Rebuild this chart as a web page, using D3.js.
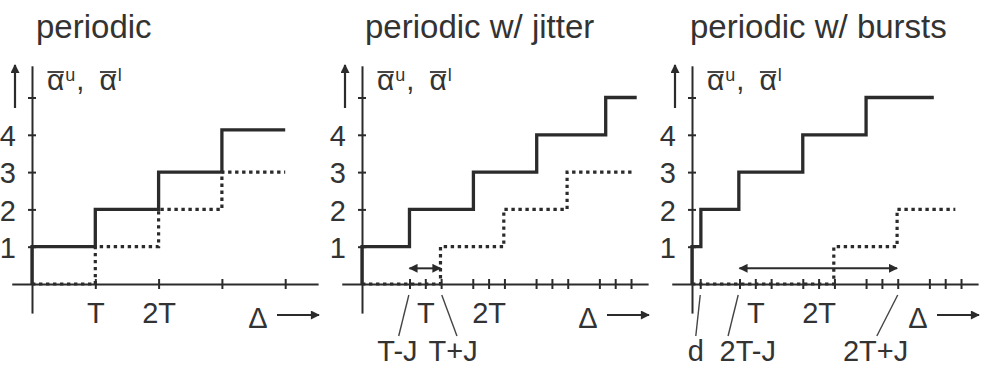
<!DOCTYPE html>
<html>
<head>
<meta charset="utf-8">
<script src="https://cdn.jsdelivr.net/npm/d3@7"></script>
<style>
    body { margin: 0; background: #fff; }
    svg { display: block; }
    text { font-family: 'Liberation Sans', Arial, sans-serif; fill: #333; }
</style>
</head>
<body>
<svg id="drawing_region"></svg>
<script>
// ---- data (x in units of T, y in events) ----
const titles = ['periodic', 'periodic w/ jitter', 'periodic w/ bursts'];

const yTickValues = [1, 2, 3, 4, 5];
const yTickLabels = ['1', '2', '3', '4', ''];

const xTicksPeriodic = [1, 2, 3, 4];
const xTicksJitter = [0.75, 1, 1.25, 1.75, 2, 2.25, 2.75, 3, 3.25, 3.75, 4, 4.25];
const xTicksBursts = [0.13, 0.75, 1, 1.25, 1.75, 2, 2.25, 2.75, 3, 3.25, 3.75, 4, 4.25];
const xTickNames = [[1, 'T'], [2, '2T']];

// upper (solid) and lower (dotted) arrival curves, step-after points
const upperPeriodic = [[0, 0], [0, 1], [1, 2], [2, 3], [3, 4.13], [4, 4.13]];
const lowerPeriodic = [[0, 0], [1, 1], [2, 2], [3, 3], [4, 3]];
const upperJitter = [[0, 0], [0, 1], [0.75, 2], [1.76, 3], [2.76, 4], [3.85, 5], [4.34, 5]];
const lowerJitter = [[0, 0], [1.24, 1], [2.24, 2], [3.24, 3], [4.26, 3]];
const upperBursts = [[0, 0], [0, 1], [0.14, 2], [0.74, 3], [1.75, 4], [2.75, 5], [3.82, 5]];
const lowerBursts = [[0, 0], [2.24, 1], [3.24, 2], [4.16, 2]];

// double arrows: [from, to, level]
const spanJitter = [0.75, 1.24, 0.42];
const spanBursts = [0.75, 3.24, 0.42];

// second row labels: text, label x, leader top x, leader bottom x
const notesJitter = [['T-J', 0.56, 0.74, 0.58], ['T+J', 1.44, 1.26, 1.5]];
const notesBursts = [['d', 0.06, 0.13, 0.06], ['2T-J', 0.88, 0.73, 0.57], ['2T+J', 2.9, 3.25, 2.92]];

// ---- drawing ----
const ink = '#2b2b2b';
const unitX = 63.3, unitY = 37.3, originY = 284;

const svg = d3.select('#drawing_region')
    .attr('width', 983)
    .attr('height', 383);

const defs = svg.append('defs');
defs.append('marker')
    .attr('id', 'head')
    .attr('viewBox', '0 0 10 10')
    .attr('refX', 9).attr('refY', 5)
    .attr('markerUnits', 'userSpaceOnUse')
    .attr('markerWidth', 11).attr('markerHeight', 9)
    .attr('orient', 'auto-start-reverse')
    .append('path')
    .attr('d', 'M0,0 L10,5 L0,10 Z')
    .attr('fill', ink);

class StepPanel {
    constructor(config, data) {
        this.config = config;
        this.data = data;
        this.init();
    }

    init() {
        let self = this;
        self.chart = svg.append('g')
            .attr('transform', `translate(${self.config.left}, 0)`);

        self.xscale = d3.scaleLinear()
            .domain([-0.32, 4.52])
            .range([-0.32 * unitX, 4.52 * unitX]);
        self.yscale = d3.scaleLinear()
            .domain([-0.78, 5.85])
            .range([originY + 0.78 * unitY, originY - 5.85 * unitY]);

        self.xaxis = d3.axisBottom(self.xscale)
            .tickValues(self.config.xTicks)
            .tickSize(5)
            .tickSizeOuter(0)
            .tickPadding(13)
            .tickFormat(d => {
                const hit = xTickNames.find(n => Math.abs(n[0] - d) < 0.05);
                return hit ? hit[1] : '';
            });
        self.yaxis = d3.axisLeft(self.yscale)
            .tickValues(yTickValues)
            .tickSize(4)
            .tickSizeOuter(0)
            .tickPadding(12)
            .tickFormat((d, i) => yTickLabels[i]);

        self.line = d3.line()
            .x(d => self.xscale(d[0]))
            .y(d => self.yscale(d[1]))
            .curve(d3.curveStepAfter);
    }

    render() {
        let self = this;
        const g = self.chart;

        g.append('text')
            .attr('x', self.config.titleDx)
            .attr('y', 38)
            .attr('font-size', 33)
            .text(self.config.title);

        const xg = g.append('g')
            .attr('transform', `translate(0, ${self.yscale(0)})`)
            .style('color', ink)
            .call(self.xaxis);
        xg.selectAll('.tick line').attr('y1', -5).attr('y2', 5).attr('stroke-width', 2);
        xg.selectAll('.tick text').attr('font-size', 29).attr('font-family', null).style('fill', '#333');
        xg.select('.domain').attr('stroke-width', 2);

        const yg = g.append('g')
            .style('color', ink)
            .call(self.yaxis);
        yg.selectAll('.tick line').attr('x1', -4).attr('x2', 4).attr('stroke-width', 2);
        yg.selectAll('.tick text').attr('font-size', 29).attr('font-family', null)
            .attr('dy', '0.37em').style('fill', '#333');
        yg.select('.domain').attr('stroke-width', 2);

        // lower curve dotted, upper curve solid
        g.append('path')
            .attr('d', self.line(self.data.lower))
            .attr('fill', 'none')
            .attr('stroke', ink)
            .attr('stroke-width', 3.2)
            .attr('stroke-dasharray', '3.4,3.6');
        g.append('path')
            .attr('d', self.line(self.data.upper))
            .attr('fill', 'none')
            .attr('stroke', ink)
            .attr('stroke-width', 3.3);

        if (self.data.span) {
            const s = self.data.span;
            g.append('line')
                .attr('x1', self.xscale(s[0])).attr('x2', self.xscale(s[1]))
                .attr('y1', self.yscale(s[2])).attr('y2', self.yscale(s[2]))
                .attr('stroke', ink).attr('stroke-width', 2)
                .attr('marker-start', 'url(#head)')
                .attr('marker-end', 'url(#head)');
        }

        (self.data.notes || []).forEach(n => {
            g.append('line')
                .attr('x1', self.xscale(n[2])).attr('y1', 295)
                .attr('x2', self.xscale(n[3])).attr('y2', 336)
                .attr('stroke', '#444').attr('stroke-width', 1.4);
            g.append('text')
                .attr('x', self.xscale(n[1]))
                .attr('y', 361)
                .attr('font-size', 29)
                .attr('text-anchor', 'middle')
                .text(n[0]);
        });

        // axis arrows and names
        g.append('line')
            .attr('x1', -17).attr('x2', -17).attr('y1', 108).attr('y2', 65)
            .attr('stroke', ink).attr('stroke-width', 2.2)
            .attr('marker-end', 'url(#head)');
        g.append('text')
            .attr('x', 226).attr('y', 328)
            .attr('font-size', 29)
            .attr('text-anchor', 'middle')
            .text('\u0394');
        g.append('line')
            .attr('x1', 245).attr('x2', 287).attr('y1', 315).attr('y2', 315)
            .attr('stroke', ink).attr('stroke-width', 2.2)
            .attr('marker-end', 'url(#head)');

        self.alphaLabel(g, 15, 90);
    }

    alphaLabel(g, x, y) {
        const parts = [
            { t: '\u03b1', size: 30, dy: 0, bar: true },
            { t: 'u', size: 18, dy: -9 },
            { t: ',', size: 29, dy: 0, gap: 14 },
            { t: '\u03b1', size: 30, dy: 0, bar: true },
            { t: 'l', size: 18, dy: -9 }
        ];
        let cx = x;
        parts.forEach(p => {
            const t = g.append('text')
                .attr('x', cx).attr('y', y + p.dy)
                .attr('font-size', p.size)
                .text(p.t);
            const w = t.node().getComputedTextLength();
            if (p.bar) {
                g.append('line')
                    .attr('x1', cx + 0.5).attr('x2', cx + w - 0.5)
                    .attr('y1', y - 18).attr('y2', y - 18)
                    .attr('stroke', '#333').attr('stroke-width', 1.8);
            }
            cx += w + 1 + (p.gap || 0);
        });
    }
}

const panels = [
    { config: { left: 32, titleDx: 4, title: titles[0], xTicks: xTicksPeriodic },
      data: { upper: upperPeriodic, lower: lowerPeriodic } },
    { config: { left: 362, titleDx: 3, title: titles[1], xTicks: xTicksJitter },
      data: { upper: upperJitter, lower: lowerJitter, span: spanJitter, notes: notesJitter } },
    { config: { left: 692, titleDx: -2, title: titles[2], xTicks: xTicksBursts },
      data: { upper: upperBursts, lower: lowerBursts, span: spanBursts, notes: notesBursts } }
];

panels.forEach(p => new StepPanel(p.config, p.data).render());
</script>
</body>
</html>
